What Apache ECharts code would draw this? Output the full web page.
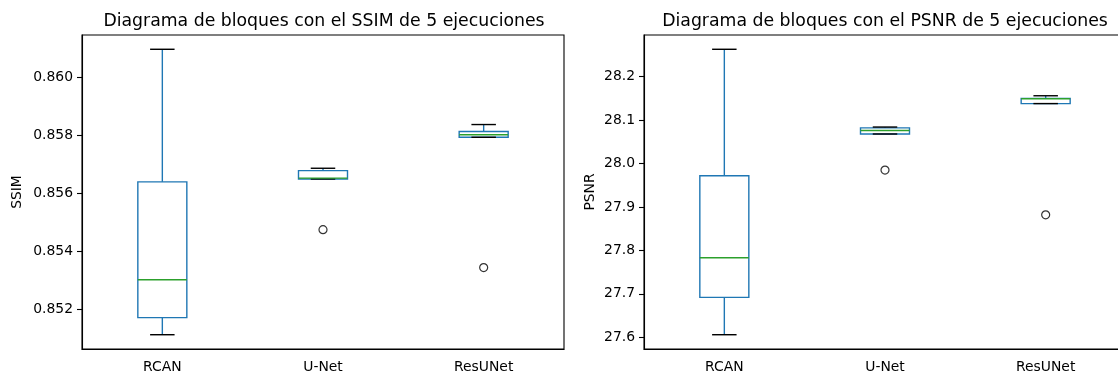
<!DOCTYPE html>
<html>
<head>
<meta charset="utf-8">
<script src="https://cdn.jsdelivr.net/npm/echarts@6/dist/echarts.min.js"></script>
<style>
  html, body { margin: 0; padding: 0; background: #fff; overflow: hidden; }
  #chart { width: 1130px; height: 376px; }
</style>
</head>
<body>
<div id="chart"></div>
<script>
// Models compared in both panels
const models = ['RCAN', 'U-Net', 'ResUNet'];

// SSIM of the 5 runs for each model
const ssimRCAN = [0.85111, 0.85170, 0.85301, 0.85639, 0.86097];
const ssimUNet = [0.85474, 0.85649, 0.85652, 0.85678, 0.85686];
const ssimResUNet = [0.85343, 0.85793, 0.85802, 0.85813, 0.85837];

// PSNR of the 5 runs for each model
const psnrRCAN = [27.606, 27.692, 27.783, 27.972, 28.263];
const psnrUNet = [27.985, 28.068, 28.076, 28.082, 28.084];
const psnrResUNet = [27.882, 28.138, 28.149, 28.150, 28.156];

// Tick labels on the value axes
const ssimTicks = [0.852, 0.854, 0.856, 0.858, 0.860];
const psnrTicks = [27.6, 27.7, 27.8, 27.9, 28.0, 28.1, 28.2];

const FONT = 'DejaVu Sans';
const BOX_BLUE = '#1f77b4';
const MEDIAN_GREEN = '#2ca02c';
const BOX_W = 49;

// Linear-interpolated quantile of a sorted array
function quantile(sorted, p) {
  const pos = (sorted.length - 1) * p;
  const lo = Math.floor(pos), hi = Math.ceil(pos);
  return sorted[lo] + (sorted[hi] - sorted[lo]) * (pos - lo);
}

// Five-number summary with 1.5*IQR whiskers and the outliers beyond them
function boxStats(values) {
  const s = values.slice().sort((a, b) => a - b);
  const q1 = quantile(s, 0.25), med = quantile(s, 0.5), q3 = quantile(s, 0.75);
  const iqr = q3 - q1;
  const inside = s.filter(v => v >= q1 - 1.5 * iqr && v <= q3 + 1.5 * iqr);
  const outliers = s.filter(v => v < q1 - 1.5 * iqr || v > q3 + 1.5 * iqr);
  return { lo: inside[0], q1, med, q3, hi: inside[inside.length - 1], outliers };
}

// Axis limits padded by 5% of the data span
function limits(groups) {
  const all = groups.flat();
  const mn = Math.min(...all), mx = Math.max(...all);
  const pad = (mx - mn) * 0.05;
  return [mn - pad, mx + pad];
}

function panelSeries(groups, idx) {
  const boxData = [];
  const outData = [];
  groups.forEach((g, i) => {
    const st = boxStats(g);
    boxData.push([i, st.lo, st.q1, st.med, st.q3, st.hi]);
    st.outliers.forEach(v => outData.push([i, v]));
  });
  return [
    {
      type: 'custom',
      xAxisIndex: idx, yAxisIndex: idx,
      data: boxData,
      encode: { x: 0, y: [1, 2, 3, 4, 5] },
      renderItem(params, api) {
        const c = api.value(0);
        const pLo = api.coord([c, api.value(1)]);
        const pQ1 = api.coord([c, api.value(2)]);
        const pMed = api.coord([c, api.value(3)]);
        const pQ3 = api.coord([c, api.value(4)]);
        const pHi = api.coord([c, api.value(5)]);
        const x = pLo[0];
        const h = BOX_W / 2, ch = BOX_W / 4;
        const blue = { stroke: BOX_BLUE, lineWidth: 1.4, fill: null };
        const black = { stroke: '#000', lineWidth: 1.4 };
        return {
          type: 'group',
          children: [
            { type: 'line', shape: { x1: x, y1: pQ1[1], x2: x, y2: pLo[1] }, style: blue },
            { type: 'line', shape: { x1: x, y1: pQ3[1], x2: x, y2: pHi[1] }, style: blue },
            { type: 'rect', shape: { x: x - h, y: pQ3[1], width: BOX_W, height: pQ1[1] - pQ3[1] }, style: blue },
            { type: 'line', shape: { x1: x - ch, y1: pLo[1], x2: x + ch, y2: pLo[1] }, style: black },
            { type: 'line', shape: { x1: x - ch, y1: pHi[1], x2: x + ch, y2: pHi[1] }, style: black },
            { type: 'line', shape: { x1: x - h, y1: pMed[1], x2: x + h, y2: pMed[1] }, style: { stroke: MEDIAN_GREEN, lineWidth: 1.4 } }
          ]
        };
      }
    },
    {
      type: 'scatter',
      xAxisIndex: idx, yAxisIndex: idx,
      data: outData,
      symbol: 'circle',
      symbolSize: 8,
      itemStyle: { color: 'rgba(0,0,0,0)', borderColor: '#000', borderWidth: 1.2 },
      silent: true
    }
  ];
}

const ssimGroups = [ssimRCAN, ssimUNet, ssimResUNet];
const psnrGroups = [psnrRCAN, psnrUNet, psnrResUNet];
const ssimLim = limits(ssimGroups);
const psnrLim = limits(psnrGroups);

const axisText = { color: '#000', fontFamily: FONT, fontSize: 13.9 };

function xAxis(idx) {
  return {
    type: 'category', gridIndex: idx, data: models, boundaryGap: true,
    axisLine: { lineStyle: { color: '#000', width: 1.1 } },
    axisTick: { alignWithLabel: true, length: 5, lineStyle: { color: '#000', width: 1.1 } },
    axisLabel: Object.assign({ margin: 11 }, axisText),
    splitLine: { show: false }
  };
}

function yAxis(idx, lim, ticks, digits, name, gap) {
  return {
    type: 'value', gridIndex: idx, min: lim[0], max: lim[1],
    name: name, nameLocation: 'middle', nameGap: gap,
    nameTextStyle: axisText,
    axisLine: { show: true, lineStyle: { color: '#000', width: 1.1 } },
    axisTick: { show: true, length: 5, customValues: ticks, lineStyle: { color: '#000', width: 1.1 } },
    axisLabel: Object.assign({ margin: 9, customValues: ticks, formatter: v => v.toFixed(digits) }, axisText),
    splitLine: { show: false }
  };
}

const titleStyle = { fontFamily: FONT, fontSize: 17.3, fontWeight: 'normal', color: '#000' };

const chart = echarts.init(document.getElementById('chart'), null, { renderer: 'canvas' });
chart.setOption({
  animation: false,
  backgroundColor: '#fff',
  title: [
    { text: 'Diagrama de bloques con el SSIM de 5 ejecuciones', left: 319, top: 8, textAlign: 'center', textStyle: titleStyle },
    { text: 'Diagrama de bloques con el PSNR de 5 ejecuciones', left: 880, top: 8, textAlign: 'center', textStyle: titleStyle }
  ],
  grid: [
    { left: 82, top: 35, width: 482, height: 314, show: true, borderColor: '#000', borderWidth: 1.1, backgroundColor: 'transparent' },
    { left: 644, top: 35, width: 482, height: 314, show: true, borderColor: '#000', borderWidth: 1.1, backgroundColor: 'transparent' }
  ],
  xAxis: [xAxis(0), xAxis(1)],
  yAxis: [
    yAxis(0, ssimLim, ssimTicks, 3, 'SSIM', 58),
    yAxis(1, psnrLim, psnrTicks, 1, 'PSNR', 47)
  ],
  series: [...panelSeries(ssimGroups, 0), ...panelSeries(psnrGroups, 1)]
});
</script>
</body>
</html>
